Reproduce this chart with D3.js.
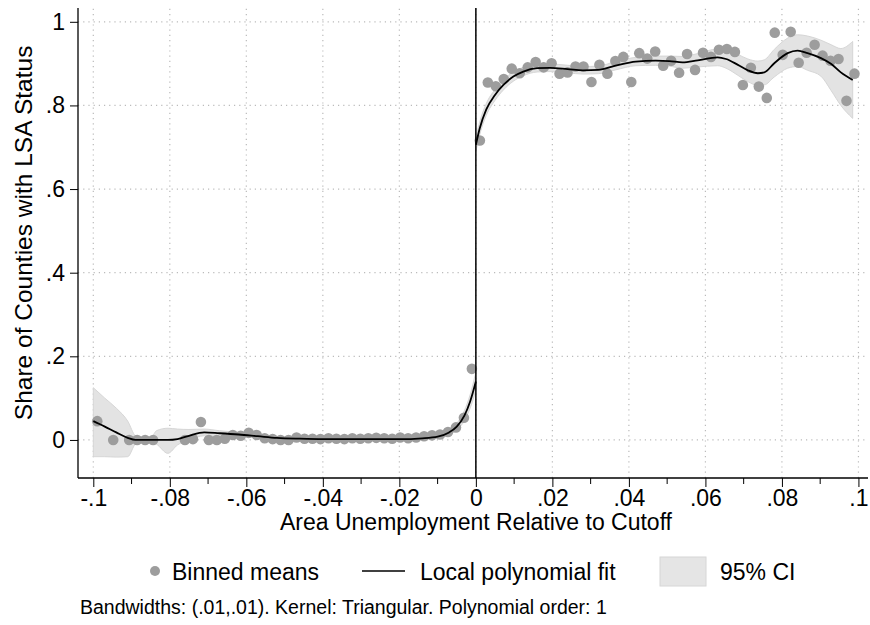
<!DOCTYPE html>
<html><head><meta charset="utf-8">
<script src="https://cdn.jsdelivr.net/npm/d3@7"></script>
<style>body{margin:0;background:#fff}svg{display:block;font-family:"Liberation Sans",Arial,Helvetica,sans-serif}</style>
</head><body><svg id="c" width="870" height="625"></svg>
<script>
// ---- data ----
const binW = 0.1/48;
const leftBinIdx = [0,2,4,5,6,7,11,12,13,14,15,16,17,18,19,20,21,22,23,24,25,26,27,28,29,30,31,32,33,34,35,36,37,38,39,40,41,42,43,44,45,46,47];
const leftBinY   = [0.045,0,0,0,0,0,0,0.002,0.043,0,0,0.003,0.012,0.01,0.017,0.012,0.004,0.002,0,0,0.006,0.003,0.003,0.002,0.004,0.003,0.002,0.004,0.003,0.004,0.005,0.004,0.003,0.006,0.004,0.006,0.009,0.011,0.013,0.019,0.03,0.053,0.17];
const rightBinY  = [0.716,0.855,0.846,0.863,0.888,0.877,0.891,0.904,0.891,0.901,0.876,0.879,0.893,0.893,0.856,0.897,0.876,0.906,0.916,0.856,0.925,0.912,0.929,0.895,
                    0.907,0.878,0.923,0.885,0.926,0.916,0.933,0.935,0.928,0.849,0.89,0.845,0.818,0.974,0.921,0.976,0.902,0.926,0.945,0.919,0.907,0.911,0.811,0.876];

const leftFitX  = [-0.1,-0.097,-0.094,-0.091,-0.089,-0.087,-0.085,-0.0835,-0.0805,-0.078,-0.075,-0.071,-0.067,-0.062,-0.057,-0.052,-0.046,-0.04,-0.03,-0.02,-0.014,-0.01,-0.007,-0.005,-0.003,-0.0015,0];
const leftFitY  = [0.045,0.032,0.018,0.005,0,0,0,0,0,0.002,0.01,0.018,0.016,0.013,0.009,0.005,0.003,0.002,0.002,0.002,0.004,0.008,0.018,0.032,0.058,0.092,0.14];
const leftLo    = [-0.04,-0.04,-0.041,-0.04,-0.01,-0.004,-0.004,-0.01,-0.032,-0.012,0,0.01,0.01,0.008,0.005,0.002,0.001,0,0,0,0.001,0.004,0.012,0.024,0.046,0.076,0.118];
const leftHi    = [0.125,0.1,0.076,0.045,0.01,0.004,0.004,0.022,0.028,0.026,0.025,0.026,0.022,0.018,0.013,0.008,0.005,0.004,0.004,0.005,0.008,0.012,0.024,0.04,0.07,0.108,0.162];

const rightFitX = [0,0.001,0.0027,0.005,0.0072,0.0098,0.0124,0.016,0.0194,0.024,0.028,0.032,0.0365,0.0418,0.047,0.0506,0.054,0.058,0.0632,0.0654,0.0685,0.0711,0.0737,0.0754,0.078,0.0815,0.0841,0.0867,0.0902,0.0929,0.0954,0.0985];
const rightFitY = [0.706,0.745,0.79,0.825,0.849,0.869,0.881,0.889,0.89,0.887,0.884,0.885,0.895,0.905,0.907,0.906,0.903,0.908,0.915,0.911,0.897,0.884,0.877,0.879,0.901,0.925,0.931,0.925,0.913,0.899,0.879,0.861];
const rightLo   = [0.69,0.73,0.776,0.812,0.837,0.858,0.871,0.88,0.881,0.878,0.875,0.876,0.885,0.895,0.896,0.894,0.889,0.892,0.895,0.889,0.872,0.857,0.848,0.849,0.868,0.889,0.893,0.884,0.87,0.835,0.8,0.769];
const rightHi   = [0.722,0.76,0.804,0.838,0.861,0.88,0.891,0.898,0.899,0.896,0.893,0.894,0.905,0.915,0.918,0.918,0.917,0.924,0.935,0.933,0.922,0.911,0.906,0.909,0.934,0.961,0.969,0.966,0.956,0.945,0.936,0.953];

const xTicks = [-0.1,-0.08,-0.06,-0.04,-0.02,0,0.02,0.04,0.06,0.08,0.1];
const xTickLabels = ["-.1","-.08","-.06","-.04","-.02","0",".02",".04",".06",".08",".1"];
const xMinorTicks = [-0.09,-0.07,-0.05,-0.03,-0.01,0.01,0.03,0.05,0.07,0.09];
const yTicks = [0,0.2,0.4,0.6,0.8,1];
const yTickLabels = ["0",".2",".4",".6",".8","1"];

const yTitle = "Share of Counties with LSA Status";
const xTitle = "Area Unemployment Relative to Cutoff";
const legendLabels = ["Binned means","Local polynomial fit","95% CI"];
const note = "Bandwidths: (.01,.01). Kernel: Triangular. Polynomial order: 1";

// ---- chart ----
const svg = d3.select("#c");
const x = d3.scaleLinear().domain([-0.104,0.1025]).range([78,868]);
const y = d3.scaleLinear().domain([-0.091,1.033]).range([478,8]);
const FS = 23;

// grid
const g = svg.append("g");
g.selectAll(".vg").data(xTicks).join("line")
  .attr("x1",d=>x(d)).attr("x2",d=>x(d)).attr("y1",y.range()[0]).attr("y2",y.range()[1])
  .attr("stroke","#bbb").attr("stroke-width",1.2).attr("stroke-dasharray","1.2,4");
g.selectAll(".hg").data(yTicks).join("line")
  .attr("y1",d=>y(d)).attr("y2",d=>y(d)).attr("x1",x.range()[0]).attr("x2",x.range()[1])
  .attr("stroke","#bbb").attr("stroke-width",1.2).attr("stroke-dasharray","1.2,4");

// CI areas
function drawCI(xs,lo,hi){
  const pts = xs.map((d,i)=>[x(d),y(lo[i]),y(hi[i])]);
  svg.append("path").attr("d", d3.area().x(d=>d[0]).y0(d=>d[1]).y1(d=>d[2]).curve(d3.curveMonotoneX)(pts))
    .attr("fill","#e3e3e3").attr("stroke","#d6d6d6").attr("stroke-width",1);
}
drawCI(leftFitX,leftLo,leftHi);
drawCI(rightFitX,rightLo,rightHi);

// binned means
const leftPts = leftBinIdx.map((k,i)=>({x:-0.1+(k+0.5)*binW, y:leftBinY[i]}));
const rightPts = rightBinY.map((v,k)=>({x:(k+0.5)*binW, y:v}));
svg.append("g").selectAll("circle").data(leftPts.concat(rightPts)).join("circle")
  .attr("cx",d=>x(d.x)).attr("cy",d=>y(d.y)).attr("r",5.3).attr("fill","#9d9d9d");

// fit lines
const line = d3.line().x(d=>x(d[0])).y(d=>y(d[1])).curve(d3.curveMonotoneX);
svg.append("path").attr("d",line(leftFitX.map((d,i)=>[d,leftFitY[i]]))).attr("fill","none").attr("stroke","#000").attr("stroke-width",1.8);
svg.append("path").attr("d",line(rightFitX.map((d,i)=>[d,rightFitY[i]]))).attr("fill","none").attr("stroke","#000").attr("stroke-width",1.8);

// cutoff line
svg.append("line").attr("x1",x(0)).attr("x2",x(0)).attr("y1",y.range()[0]).attr("y2",y.range()[1]).attr("stroke","#000").attr("stroke-width",1.5);

// axes
const xAxis = d3.axisBottom(x).tickValues(xTicks).tickFormat((d,i)=>xTickLabels[i]).tickSize(9).tickPadding(3);
const xg = svg.append("g").attr("transform",`translate(0,${y.range()[0]})`).call(xAxis);
xg.select(".domain").attr("d",`M${x.range()[0]},0H${x.range()[1]}`).attr("stroke-width",1.3);
xg.selectAll("text").attr("font-size",FS).attr("fill","#000").attr("font-family","Liberation Sans, Arial, sans-serif");
xg.selectAll(".minor").data(xMinorTicks).join("line").attr("class","minor")
  .attr("x1",d=>x(d)).attr("x2",d=>x(d)).attr("y1",0).attr("y2",6).attr("stroke","#000");

const yAxis = d3.axisLeft(y).tickValues(yTicks).tickFormat((d,i)=>yTickLabels[i]).tickSize(8).tickPadding(5);
const yg = svg.append("g").attr("transform",`translate(${x.range()[0]},0)`).call(yAxis);
yg.select(".domain").attr("d",`M0,${y.range()[0]}V${y.range()[1]}`).attr("stroke-width",1.3);
yg.selectAll("text").attr("font-size",FS).attr("fill","#000").attr("font-family","Liberation Sans, Arial, sans-serif");

// titles
svg.append("text").attr("x",476).attr("y",530).attr("text-anchor","middle").attr("font-size",FS).text(xTitle);
svg.append("text").attr("transform",`translate(32,${y(0.5)+2}) rotate(-90)`).attr("text-anchor","middle").attr("font-size",24.5).text(yTitle);

// legend
const lg = svg.append("g");
lg.append("circle").attr("cx",155).attr("cy",571).attr("r",5).attr("fill","#9d9d9d");
lg.append("text").attr("x",172).attr("y",580).attr("font-size",FS).text(legendLabels[0]);
lg.append("line").attr("x1",362).attr("x2",405).attr("y1",571).attr("y2",571).attr("stroke","#000").attr("stroke-width",1.6);
lg.append("text").attr("x",420).attr("y",580).attr("font-size",FS).text(legendLabels[1]);
lg.append("rect").attr("x",660).attr("y",557).attr("width",46).attr("height",29).attr("fill","#e5e5e5").attr("stroke","#d6d6d6");
lg.append("text").attr("x",720).attr("y",580).attr("font-size",FS).text(legendLabels[2]);

svg.append("text").attr("x",80).attr("y",614).attr("font-size",19.5).text(note);
</script></body></html>
